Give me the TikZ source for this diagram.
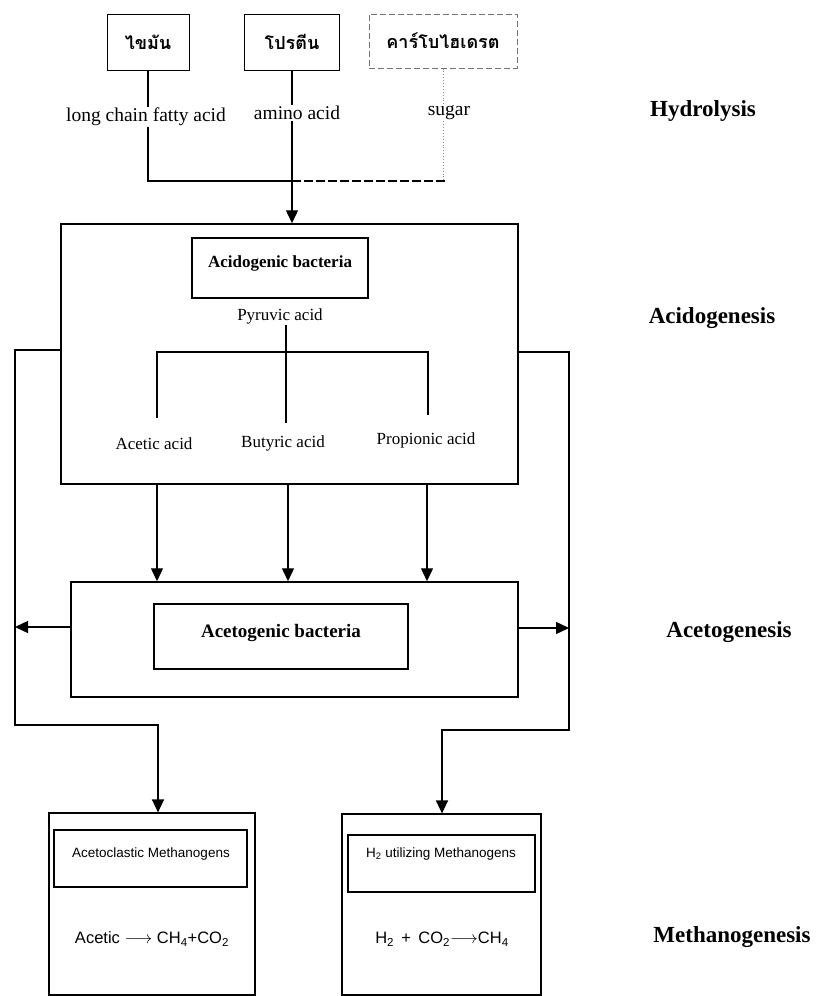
\documentclass[tikz,border=0pt]{standalone}
\usepackage{fontspec}
\setmainfont{Liberation Serif}
\newfontfamily\thaifont[Script=Thai]{Loma}
\newfontfamily\sansfont{Liberation Sans}
\usetikzlibrary{arrows.meta}
\begin{document}
\begin{tikzpicture}[x=1pt,y=-1pt,
  box/.style={draw, line width=1.5pt, inner sep=0pt},
  ibox/.style={draw, line width=1.1pt, inner sep=0pt},
  tbox/.style={draw, line width=1pt, inner sep=0pt, font=\thaifont\bfseries\fontsize{18}{21}\selectfont},
  lbl/.style={inner sep=1pt, font=\fontsize{17}{20}\selectfont},
  tlbl/.style={inner sep=1pt, font=\fontsize{19.5}{22}\selectfont},
  blbl/.style={inner sep=1pt, font=\bfseries\fontsize{17}{20}\selectfont},
  mlbl/.style={inner sep=1pt, font=\sansfont\fontsize{13.5}{16}\selectfont},
  eqn/.style={inner sep=1pt, font=\sansfont\fontsize{16.5}{19}\selectfont},
  stage/.style={inner sep=1pt, font=\bfseries\fontsize{23}{26}\selectfont},
  conn/.style={line width=1.4pt},
  arr/.style={conn, -{Triangle[length=13pt,width=12pt]}},
  dotc/.style={line width=0.9pt, dotted, draw=black!45}]
\useasboundingbox (0,0) rectangle (818,996);

% hydrolysis inputs
\node[tbox, minimum width=82pt, minimum height=56pt] (fat) at (148,42) {ไขมัน};
\node[tbox, minimum width=95pt, minimum height=56pt] (prot) at (292,42) {โปรตีน};
\node[tbox, draw=black!55, dash pattern=on 6pt off 3pt, minimum width=148pt, minimum height=54pt] (carb) at (443,41) {คาร์โบไฮเดรต};
\node[tlbl] (lcfa) at (146,117) {long chain fatty acid};
\node[tlbl] (amino) at (297,113) {amino acid};
\node[tlbl] (sugar) at (449,113) {sugar};

% acidogenesis
\node[box, minimum width=457pt, minimum height=260pt] (acido) at (289.5,354) {};
\node[ibox, minimum width=176pt, minimum height=60pt] (acb) at (280,268) {};
\node[blbl] (acbt) at (280,263) {Acidogenic bacteria};
\node[lbl] (pyr) at (280,316) {Pyruvic acid};
\node[lbl] (ace) at (154,444) {Acetic acid};
\node[lbl] (but) at (283,443) {Butyric acid};
\node[lbl] (pro) at (426,440) {Propionic acid};

% acetogenesis
\node[box, minimum width=447pt, minimum height=115pt] (aceto) at (294.5,639.5) {};
\node[ibox, minimum width=254pt, minimum height=65pt] (atb) at (281,636.5) {};
\node[blbl, font=\bfseries\fontsize{19}{22}\selectfont] (atbt) at (281,633) {Acetogenic bacteria};

% methanogenesis
\node[box, line width=1.2pt, minimum width=206pt, minimum height=182pt] (m1) at (152,904) {};
\node[ibox, minimum width=193pt, minimum height=57pt] (m1i) at (150.5,858.5) {};
\node[mlbl] (m1t) at (151,854) {Acetoclastic Methanogens};
\node[eqn] (e1) at (152,939) {Acetic $\longrightarrow$ CH\textsubscript{4}+CO\textsubscript{2}};
\node[box, line width=1.2pt, minimum width=199pt, minimum height=181pt] (m2) at (441.5,904.5) {};
\node[ibox, minimum width=187pt, minimum height=57pt] (m2i) at (441.5,863.5) {};
\node[mlbl] (m2t) at (441,854) {H\textsubscript{2} utilizing Methanogens};
\node[eqn] (e2) at (442,939) {H\textsubscript{2} \,+\, CO\textsubscript{2}$\longrightarrow$CH\textsubscript{4}};

% stage labels
\node[stage] (s1) at (703,111) {Hydrolysis};
\node[stage] (s2) at (712,318) {Acidogenesis};
\node[stage] (s3) at (729,632) {Acetogenesis};
\node[stage] (s4) at (732,937) {Methanogenesis};

% hydrolysis connectors
\coordinate (jl) at (148,181);
\coordinate (jr) at (445,181);
\draw[conn] (fat.south) -- (fat.south |- lcfa.north);
\draw[conn] (prot.south) -- (prot.south |- amino.north);
\draw[dotc] (carb.south) -- (carb.south |- sugar.north);
\draw[conn] (fat.south |- lcfa.south) -- (jl) -- (prot.south |- jl);
\draw[conn, dash pattern=on 9pt off 3pt] (prot.south |- jl) -- (jr);
\draw[dotc] (carb.south |- sugar.south) -- (carb.south |- jr);
\draw[arr] (prot.south |- amino.south) -- (prot.south |- acido.north);

% pyruvic acid split
\coordinate (bl) at (157,352);
\coordinate (bm) at (286,352);
\coordinate (br) at (428,352);
\coordinate (al) at (157,418);
\coordinate (am) at (286,423);
\coordinate (ar) at (428,415);
\draw[conn] (bm |- pyr.south) -- (am);
\draw[conn] (al) -- (bl) -- (br) -- (ar);

% acidogenic -> acetogenic
\draw[arr] (acido.south -| al) -- (aceto.north -| al);
\draw[arr] (acido.south -| 288,0) -- (aceto.north -| 288,0);
\draw[arr] (acido.south -| 427,0) -- (aceto.north -| 427,0);

% feedback loops
\coordinate (L1) at (15,350);
\coordinate (L2) at (15,725);
\coordinate (L3) at (158,725);
\coordinate (R1) at (569,352);
\coordinate (R2) at (569,730);
\coordinate (R3) at (442,730);
\coordinate (ya) at (0,627);
\coordinate (yb) at (0,628);
\draw[arr] (acido.west |- L1) -- (L1) -- (L2) -- (L3) -- (L3 |- m1.north);
\draw[arr] (acido.east |- R1) -- (R1) -- (R2) -- (R3) -- (R3 |- m2.north);
\draw[arr] (aceto.west |- ya) -- (L1 |- ya);
\draw[arr] (aceto.east |- yb) -- (R1 |- yb);
\end{tikzpicture}
\end{document}
